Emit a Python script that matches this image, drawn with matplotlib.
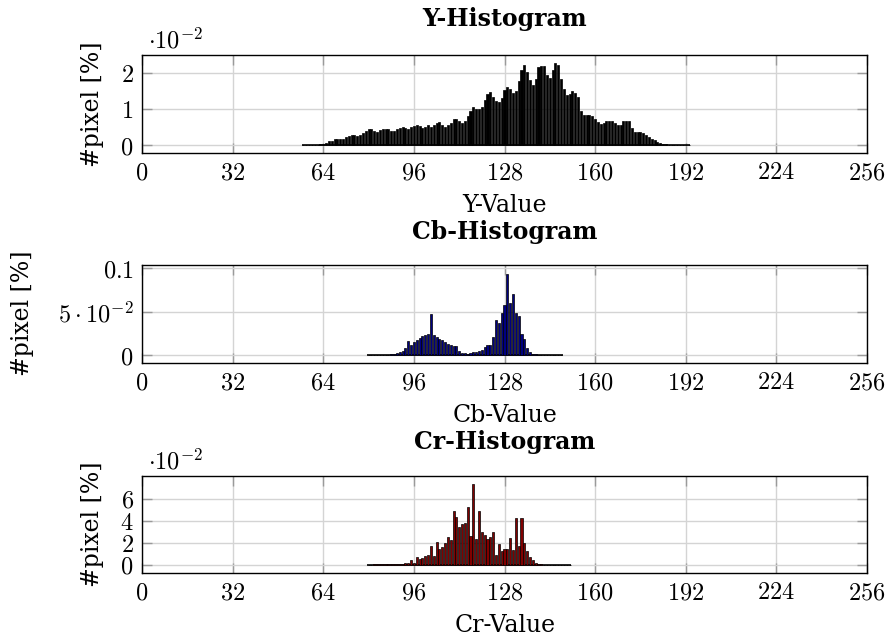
import numpy as np
import matplotlib
matplotlib.use("Agg")
import matplotlib.pyplot as plt

plt.rcParams['mathtext.fontset'] = 'cm'
plt.rcParams['font.family'] = 'DejaVu Serif'

# Y channel histogram, values in units of 1e-2, first bin = 57
y_start = 57
y_vals = [0.01, 0.01, 0.01, 0.02, 0.02, 0.02, 0.03, 0.05, 0.07, 0.12,
          0.13, 0.17, 0.17, 0.17, 0.18, 0.22, 0.27, 0.28, 0.28, 0.27,
          0.29, 0.34, 0.40, 0.45, 0.44, 0.40, 0.38, 0.41, 0.45, 0.46,
          0.44, 0.39, 0.40, 0.46, 0.49, 0.50, 0.49, 0.46, 0.50, 0.53,
          0.55, 0.54, 0.48, 0.50, 0.56, 0.52, 0.57, 0.62, 0.64, 0.57,
          0.51, 0.55, 0.62, 0.72, 0.74, 0.68, 0.63, 0.66, 0.81, 0.94,
          1.06, 1.00, 1.01, 1.05, 1.25, 1.41, 1.47, 1.34, 1.22, 1.19,
          1.31, 1.52, 1.60, 1.55, 1.45, 1.49, 1.76, 2.09, 2.21, 2.03,
          1.80, 1.66, 1.82, 2.17, 2.18, 2.18, 1.95, 1.87, 2.07, 2.26,
          2.21, 1.84, 1.55, 1.39, 1.41, 1.50, 1.43, 1.32, 0.95, 0.85,
          0.85, 0.84, 0.80, 0.74, 0.64, 0.60, 0.61, 0.67, 0.68, 0.68,
          0.62, 0.56, 0.56, 0.66, 0.66, 0.66, 0.47, 0.38, 0.38, 0.38,
          0.34, 0.28, 0.22, 0.18, 0.14, 0.10, 0.07, 0.05, 0.03, 0.02,
          0.02, 0.01, 0.01, 0.01, 0.01, 0.01, 0.0]

# Cb channel histogram, first bin = 80
cb_start = 80
cb_vals = [0.0003, 0.0003, 0.0004, 0.0004, 0.0005, 0.0005, 0.0006, 0.0007, 0.0009, 0.0011,
           0.0023, 0.0035, 0.005, 0.008, 0.016, 0.012, 0.015, 0.017, 0.0195, 0.022,
           0.0234, 0.025, 0.048, 0.023, 0.021, 0.019, 0.017, 0.015, 0.0134, 0.0115,
           0.0103, 0.011, 0.0046, 0.003, 0.0023, 0.0019, 0.0023, 0.0038, 0.004, 0.005,
           0.0057, 0.010, 0.0115, 0.012, 0.0207, 0.041, 0.0375, 0.0487, 0.0575, 0.094,
           0.0605, 0.070, 0.0487, 0.045, 0.025, 0.019, 0.008, 0.0035, 0.002, 0.0012,
           0.0008, 0.0005, 0.0004, 0.0003, 0.0002, 0.0002, 0.0001, 0.0001, 0.0]

# Cr channel histogram, first bin = 80
cr_start = 80
cr_vals = [0.0002, 0.0002, 0.0003, 0.0003, 0.0004, 0.0004, 0.0005, 0.0005, 0.0006, 0.0007,
           0.0008, 0.0009, 0.001, 0.0015, 0.002, 0.0045, 0.002, 0.007, 0.005, 0.006,
           0.0075, 0.0084, 0.017, 0.008, 0.0204, 0.0144, 0.0165, 0.0195, 0.0255, 0.0225,
           0.049, 0.043, 0.0345, 0.0366, 0.0378, 0.052, 0.0264, 0.073, 0.023, 0.049,
           0.030, 0.027, 0.0234, 0.0255, 0.0297, 0.009, 0.019, 0.0129, 0.014, 0.0147,
           0.024, 0.0135, 0.0426, 0.017, 0.042, 0.020, 0.0129, 0.0069, 0.0039, 0.0015,
           0.0006, 0.0003, 0.0002, 0.0002, 0.0001, 0.0001, 0.0001, 0.0, 0.0, 0.0,
           0.0, 0.0]

x_ticks = [0, 32, 64, 96, 128, 160, 192, 224, 256]

W, H = 890, 641
fig = plt.figure(figsize=(W / 100, H / 100), dpi=100)


def px_axes(left, top, right, bottom):
    return fig.add_axes([left / W, 1 - bottom / H, (right - left) / W, (bottom - top) / H])


def style_axes(ax, ylim, yticks, ylabels):
    ax.set_xlim(0, 256)
    ax.set_ylim(*ylim)
    ax.set_xticks(x_ticks, labels=['$%d$' % t for t in x_ticks])
    ax.set_yticks(yticks, labels=ylabels)
    ax.tick_params(direction='in', length=7, width=1, color='#9a9a9a',
                   top=True, right=True, labelsize=17.5, pad=6)
    ax.grid(True, color='#d4d4d4', linewidth=1)
    ax.set_axisbelow(True)
    for s in ax.spines.values():
        s.set_linewidth(1.0)
        s.set_color('black')


def draw_hist(ax, start, vals, fill):
    x = np.arange(start, start + len(vals))
    ax.hlines(0, x[0] - 0.5, x[-1] + 0.5, color='black', linewidth=1.2, zorder=2)
    ax.bar(x, vals, width=0.72, color=fill, edgecolor='black', linewidth=0.5, zorder=3)


def fig_text(xp, yp, s, **kw):
    fig.text(xp / W, 1 - yp / H, s, ha='center', va='center', **kw)


# Y
ax1 = px_axes(142, 55, 867, 153)
draw_hist(ax1, y_start, np.array(y_vals) * 1e-2, 'black')
style_axes(ax1, (-0.0021, 0.0249), [0, 0.01, 0.02], ['$0$', '$1$', '$2$'])
ax1.text(0.008, 1.02, r'$\cdot 10^{-2}$', transform=ax1.transAxes, fontsize=17.5,
         ha='left', va='bottom')
fig_text(505, 19, 'Y-Histogram', fontsize=17, fontweight='bold')
fig_text(505, 206, 'Y-Value', fontsize=17)
fig_text(92, 104, '#pixel [%]', fontsize=17, rotation=90)

# Cb
ax2 = px_axes(142, 265, 867, 363)
draw_hist(ax2, cb_start, cb_vals, '#000080')
style_axes(ax2, (-0.0089, 0.1038), [0, 0.05, 0.1], ['$0$', r'$5\cdot 10^{-2}$', '$0.1$'])
fig_text(505, 232, 'Cb-Histogram', fontsize=17, fontweight='bold')
fig_text(505, 415, 'Cb-Value', fontsize=17)
fig_text(23, 313, '#pixel [%]', fontsize=17, rotation=90)

# Cr
ax3 = px_axes(142, 476, 867, 573)
draw_hist(ax3, cr_start, cr_vals, '#800000')
style_axes(ax3, (-0.0075, 0.0805), [0, 0.02, 0.04, 0.06], ['$0$', '$2$', '$4$', '$6$'])
ax3.text(0.008, 1.02, r'$\cdot 10^{-2}$', transform=ax3.transAxes, fontsize=17.5,
         ha='left', va='bottom')
fig_text(505, 442, 'Cr-Histogram', fontsize=17, fontweight='bold')
fig_text(505, 625, 'Cr-Value', fontsize=17)
fig_text(92, 524, '#pixel [%]', fontsize=17, rotation=90)

fig.savefig('out.png', dpi=100)
